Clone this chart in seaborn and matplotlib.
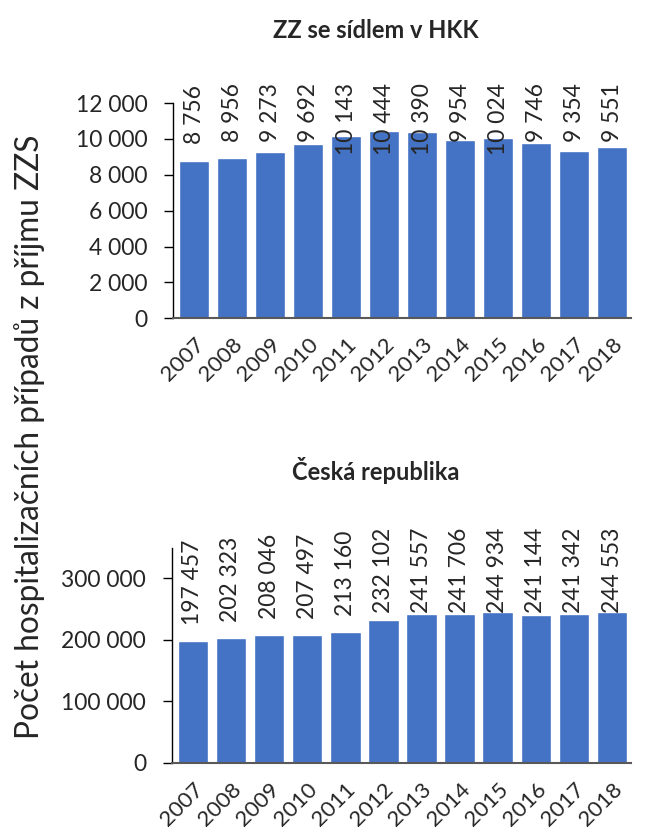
import seaborn as sns
import matplotlib.pyplot as plt
from matplotlib.ticker import FuncFormatter

years = ["2007", "2008", "2009", "2010", "2011", "2012",
         "2013", "2014", "2015", "2016", "2017", "2018"]
hkk = [8756, 8956, 9273, 9692, 10143, 10444, 10390, 9954, 10024, 9746, 9354, 9551]
cr = [197457, 202323, 208046, 207497, 213160, 232102,
      241557, 241706, 244934, 241144, 241342, 244553]

sns.set_style("white")
plt.rcParams['font.family'] = ['Lato', 'DejaVu Sans']

blue = "#4472C4"
fig = plt.figure(figsize=(6.46, 8.31), dpi=100)
ax1 = fig.add_axes([0.268, 0.617, 0.709, 0.259])
ax2 = fig.add_axes([0.266, 0.082, 0.711, 0.259])


def fmt(v, pos=None):
    return f"{int(v):,}".replace(",", " ")


def style(ax, ymax, ticks):
    ax.set_ylim(0, ymax)
    ax.set_yticks(ticks)
    ax.yaxis.set_major_formatter(FuncFormatter(fmt))
    ax.set_xlabel("")
    ax.set_ylabel("")
    ax.set_xlim(-0.55, len(years) - 0.5)
    for s in ["top", "right"]:
        ax.spines[s].set_visible(False)
    ax.spines["left"].set_color("black")
    ax.spines["left"].set_linewidth(1.0)
    ax.spines["bottom"].set_color("#595959")
    ax.spines["bottom"].set_linewidth(1.5)
    ax.tick_params(axis="y", left=True, length=6.5, width=1, color="black",
                   labelsize=16.5, pad=12)
    ax.tick_params(axis="x", bottom=False, labelsize=16, pad=8)
    for lab in ax.get_xticklabels():
        lab.set_rotation(45)
        lab.set_ha("right")
        lab.set_va("top")
        lab.set_rotation_mode("anchor")


# top panel
sns.barplot(x=years, y=hkk, color=blue, width=0.78, saturation=1, ax=ax1)
style(ax1, 12000, [0, 2000, 4000, 6000, 8000, 10000, 12000])
ax1.set_title("ZZ se sídlem v HKK", fontsize=17, fontweight="bold", pad=47, x=0.442)
for i, v in enumerate(hkk):
    ax1.text(i, min(v + 4240, 13100), fmt(v), rotation=90, ha="center", va="top",
             fontsize=16.5, clip_on=False)

# bottom panel
sns.barplot(x=years, y=cr, color=blue, width=0.8, saturation=1, ax=ax2)
style(ax2, 350000, [0, 100000, 200000, 300000])
ax2.set_title("Česká republika", fontsize=17, fontweight="bold", pad=49, x=0.444)
for i, v in enumerate(cr):
    ax2.text(i, min(v + 165000, 382000), fmt(v), rotation=90, ha="center", va="top",
             fontsize=16.5, clip_on=False)

fig.text(0.045, 0.474, "Počet hospitalizačních případů z příjmu ZZS", rotation=90,
         ha="center", va="center", fontsize=22.8)

fig.savefig("out.png", dpi=100)
